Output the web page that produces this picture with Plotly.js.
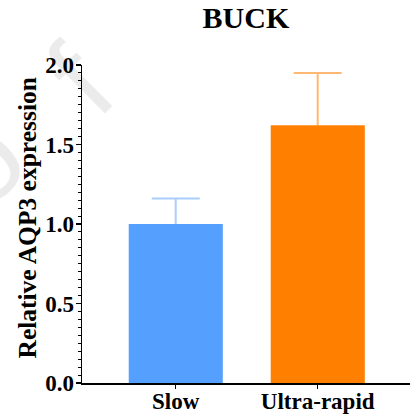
<!DOCTYPE html>
<html>
<head>
<meta charset="utf-8">
<script src="https://cdn.plot.ly/plotly-3.0.1.min.js"></script>
<style>html,body{margin:0;padding:0;background:#fff;}#chart{width:412px;height:419px;}</style>
</head>
<body>
<div id="chart"></div>
<script>
const categories = ["Slow", "Ultra-rapid"];
const values = [1.0, 1.62];
const errors = [0.16, 0.33];
const barColors = ["#559ffe", "#ff8000"];
const errColors = ["#a9cdff", "#ffb774"];
const yTicks = [0, 0.5, 1.0, 1.5, 2.0];
const yTickLabels = ["0.0", "0.5", "1.0", "1.5", "2.0"];
const yTitle = "Relative AQP3 expression";
const chartTitle = "BUCK";

const serif = "Liberation Serif, Times New Roman, serif";

// error bars (one trace per category, for per-category colour)
const errTraces = categories.map((c, i) => ({
  type: "bar",
  x: [c],
  y: [values[i]],
  marker: {color: barColors[i], line: {width: 0}},
  error_y: {type: "data", array: [errors[i]], color: errColors[i], thickness: 2, width: 24},
  hoverinfo: "none",
  showlegend: false
}));
// bars drawn over them so only the upper whisker shows
const barTrace = {
  type: "bar",
  x: categories,
  y: values,
  marker: {color: barColors, line: {width: 0}},
  hoverinfo: "none",
  showlegend: false
};

const wm = {family: "Liberation Sans, Arial, sans-serif", size: 120, color: "rgba(0,0,0,0.08)"};

const layout = {
  width: 412, height: 419,
  margin: {l: 82, r: 2, t: 65, b: 36},
  paper_bgcolor: "#fff", plot_bgcolor: "#fff",
  barmode: "overlay",
  bargap: 0.34,
  title: {text: "<b>" + chartTitle + "</b>", font: {family: serif, size: 30, color: "#000"}, x: 0.597, xanchor: "center", y: 0.958, yanchor: "middle"},
  xaxis: {
    type: "category", range: [-0.66, 1.65],
    showline: true, linecolor: "#000", linewidth: 1.5,
    ticks: "outside", ticklen: 4, tickwidth: 1.5, tickcolor: "#000",
    tickfont: {family: serif, size: 23, color: "#000", weight: "bold"},
    ticklabelstandoff: -7,
    showgrid: false, zeroline: false, fixedrange: true
  },
  yaxis: {
    range: [0, 2.0],
    showline: true, linecolor: "#000", linewidth: 1.5,
    tickmode: "array", tickvals: yTicks, ticktext: yTickLabels.map(t => "<b>" + t + "</b>"),
    ticks: "outside", ticklen: 5, tickwidth: 1.5, tickcolor: "#000",
    minor: {dtick: 0.05, ticks: "outside", ticklen: 3, tickwidth: 1, tickcolor: "#000", showgrid: false},
    tickfont: {family: serif, size: 23, color: "#000"},
    ticklabelstandoff: -3,
    showgrid: false, zeroline: false, fixedrange: true
  },
  annotations: [
    {text: "f", xref: "paper", yref: "paper", x: -0.005, y: 0.955, xanchor: "center", yanchor: "middle",
     showarrow: false, textangle: -45, font: wm},
    {text: "o", xref: "paper", yref: "paper", x: -0.31, y: 0.70, xanchor: "center", yanchor: "middle",
     showarrow: false, textangle: -45, font: wm},
    {text: "<b>" + yTitle + "</b>", xref: "paper", yref: "paper", x: -0.165, y: 0.52,
     xanchor: "center", yanchor: "middle", showarrow: false, textangle: -90,
     font: {family: serif, size: 25.5, color: "#000"}}
  ]
};

Plotly.newPlot("chart", errTraces.concat([barTrace]), layout, {displayModeBar: false, staticPlot: true});
</script>
</body>
</html>
